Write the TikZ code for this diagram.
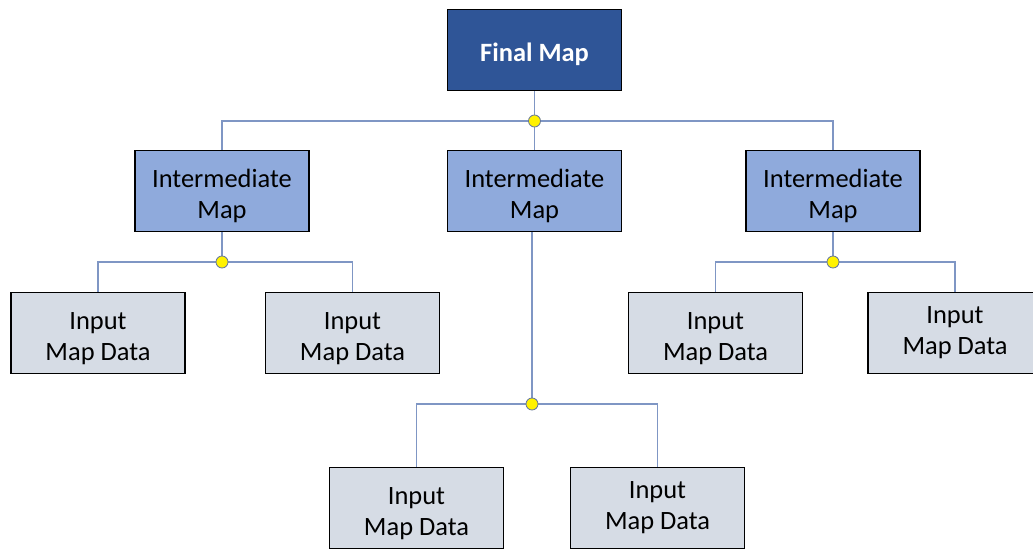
\documentclass[tikz,border=0pt]{standalone}
\usepackage{fontspec}
\setmainfont{Carlito}
\usepackage{tikz}
\usetikzlibrary{calc,positioning}

\definecolor{finalblue}{HTML}{2F5597}
\definecolor{midblue}{HTML}{8FAADC}
\definecolor{inputgray}{HTML}{D6DCE5}
\definecolor{linkblue}{HTML}{7F96C4}

\newcommand{\lift}{\rule{0pt}{20pt}}

\begin{document}
\begin{tikzpicture}[x=0.025cm, y=-0.025cm,
    box/.style = {draw=black, line width=1.4pt, minimum width=174*0.025cm, minimum height=81*0.025cm,
                  align=center, inner sep=0pt, font=\fontsize{18.8}{22}\selectfont},
    finalbox/.style = {box, fill=finalblue, text=white, font=\fontsize{18.8}{22}\selectfont\bfseries},
    midbox/.style = {box, fill=midblue},
    inbox/.style = {box, fill=inputgray},
    link/.style = {draw=linkblue, line width=1.1pt},
    joint/.style = {circle, draw=linkblue!80!black, fill=yellow, line width=0.6pt, inner sep=0pt, minimum size=12*0.025cm}]
  \clip (0,0) rectangle (1033,550);

  \node[finalbox] (final) at (534.5,50) {\lift Final Map};

  \node[midbox] (midL) at (222,191) {\lift Intermediate\\Map};
  \node[midbox] (midC) at (534.5,191) {\lift Intermediate\\Map};
  \node[midbox] (midR) at (833,191) {\lift Intermediate\\Map};

  \node[inbox] (inA) at (98,333) {\lift Input\\Map Data};
  \node[inbox] (inB) at (352.5,333) {\lift Input\\Map Data};
  \node[inbox] (inC) at (715.5,333) {\lift Input\\Map Data};
  \node[inbox] (inD) at (955,333) {Input\\Map Data};
  \node[inbox] (inE) at (416.5,508) {\lift Input\\Map Data};
  \node[inbox] (inF) at (657.5,508) {Input\\Map Data};

  % joints
  \coordinate (jTop) at (534.5,121);
  \coordinate (jL) at (222,262);
  \coordinate (jR) at (833,262);
  \coordinate (jC) at (532,404);

  \draw[link] (final) -- (jTop);
  \draw[link] (jTop) -- (midC);
  \draw[link] (jTop) -| (midL);
  \draw[link] (jTop) -| (midR);

  \draw[link] (midL) -- (jL);
  \draw[link] (jL) -| (inA);
  \draw[link] (jL) -| (inB);

  \draw[link] (midR) -- (jR);
  \draw[link] (jR) -| (inC);
  \draw[link] (jR) -| (inD);

  \draw[link] (midC.south -| jC) -- (jC);
  \draw[link] (jC) -| (inE);
  \draw[link] (jC) -| (inF);

  \foreach \j in {jTop,jL,jR,jC}
    \node[joint] at (\j) {};
\end{tikzpicture}
\end{document}
